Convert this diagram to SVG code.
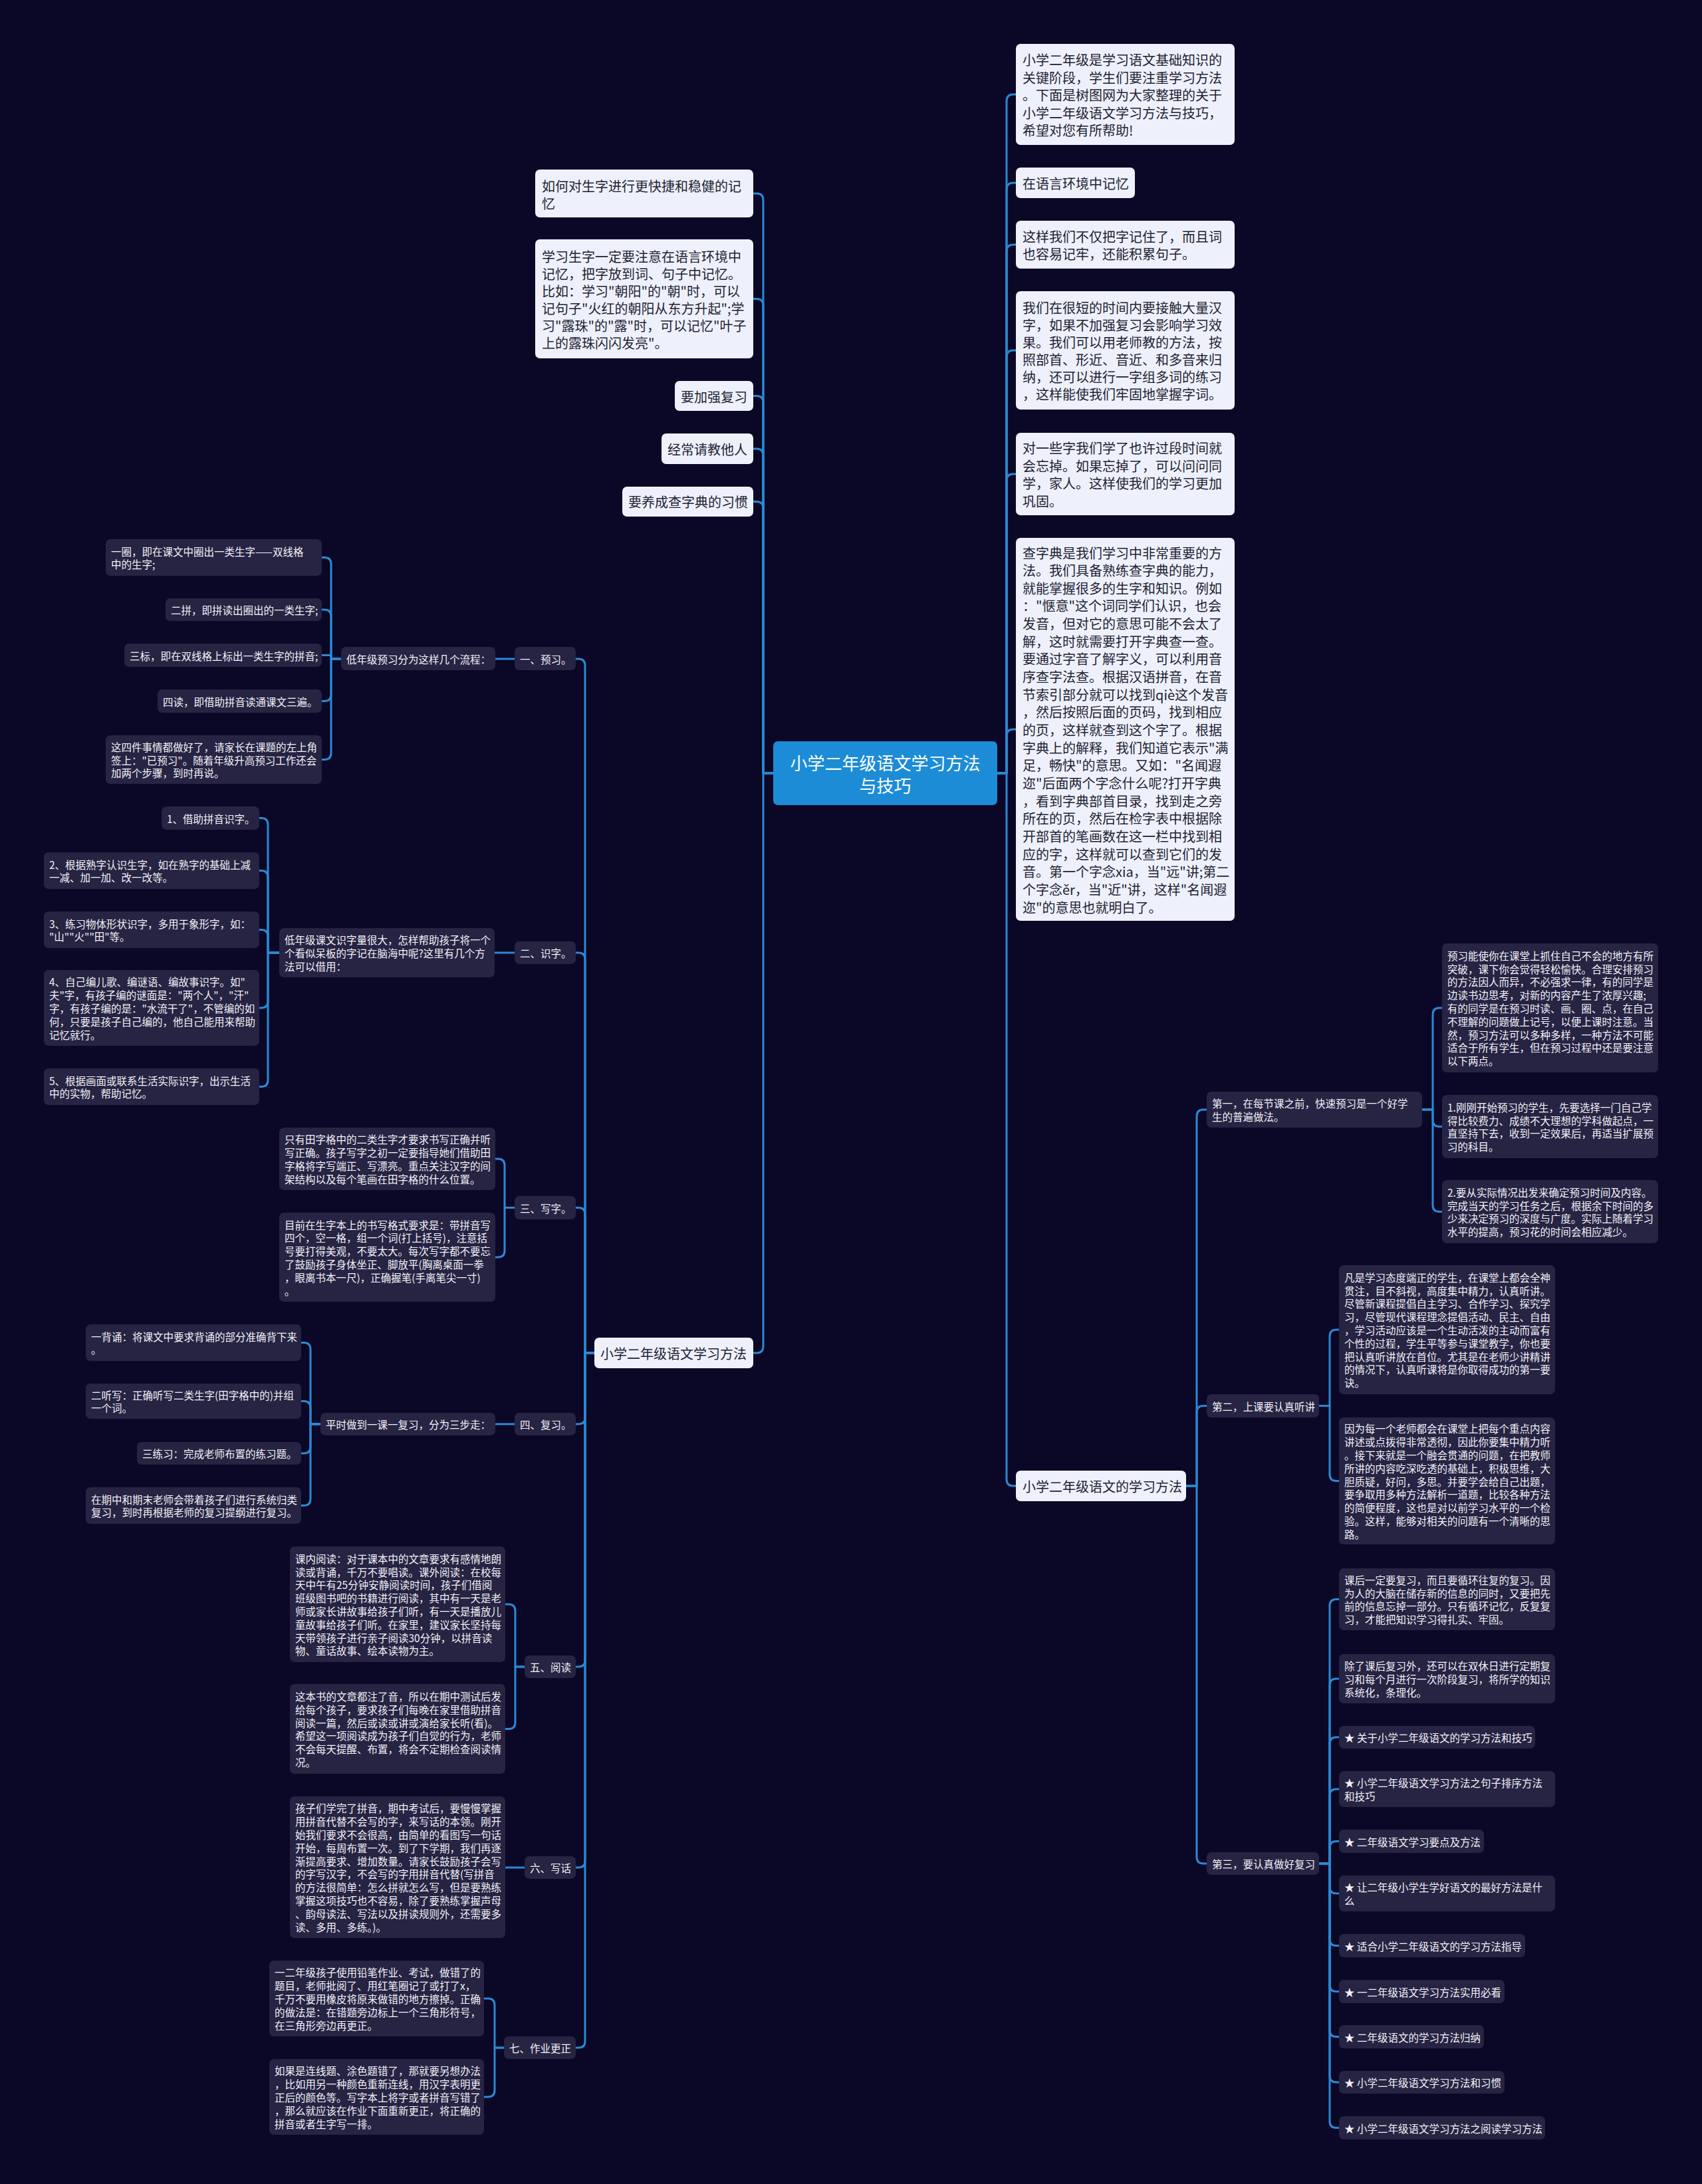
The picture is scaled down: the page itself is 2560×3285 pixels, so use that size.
<svg xmlns="http://www.w3.org/2000/svg" width="2560" height="3285" viewBox="0 0 2560 3285">
<style>
text{font-family:"Noto Sans CJK SC","Noto Sans",sans-serif;dominant-baseline:central}
.l{fill:#eef1fb}
.d{fill:#262343}
.c{fill:#1d8cd6}
.tl{font-size:20px;fill:#222233}
.td{font-size:15.5px;fill:#f2f2f7}
.tc{font-size:26px;fill:#ffffff;text-anchor:middle}
.e{fill:none;stroke:#2a8ad2;stroke-width:3;stroke-linejoin:round;stroke-linecap:round}
</style>
<rect width="2560" height="3285" fill="#0b0727"/>
<g id="connectors" class="e">
<path d="M1163 1163H1148V301Q1148 291 1138 291H1133"/>
<path d="M1163 1163H1148V459.5Q1148 449.5 1138 449.5H1133"/>
<path d="M1163 1163H1148V605.5Q1148 595.5 1138 595.5H1133"/>
<path d="M1163 1163H1148V685Q1148 675 1138 675H1133"/>
<path d="M1163 1163H1148V764.5Q1148 754.5 1138 754.5H1133"/>
<path d="M1163 1163H1148V2025Q1148 2035 1138 2035H1133"/>
<path d="M1500 1163H1514V152Q1514 142 1524 142H1528"/>
<path d="M1500 1163H1514V285Q1514 275 1524 275H1528"/>
<path d="M1500 1163H1514V378Q1514 368 1524 368H1528"/>
<path d="M1500 1163H1514V537Q1514 527 1524 527H1528"/>
<path d="M1500 1163H1514V723Q1514 713 1524 713H1528"/>
<path d="M1500 1163H1514V1107Q1514 1097 1524 1097H1528"/>
<path d="M1500 1163H1514V2225Q1514 2235 1524 2235H1528"/>
<path d="M894 2035H880V1001Q880 991 870 991H866"/>
<path d="M894 2035H880V1443Q880 1433 870 1433H866"/>
<path d="M894 2035H880V1826.5Q880 1816.5 870 1816.5H866"/>
<path d="M894 2035H880V2132Q880 2142 870 2142H866"/>
<path d="M894 2035H880V2497Q880 2507 870 2507H866"/>
<path d="M894 2035H880V2799Q880 2809 870 2809H866"/>
<path d="M894 2035H880V3070Q880 3080 870 3080H866"/>
<path d="M774 991H745"/>
<path d="M513 991H498V848.5Q498 838.5 488 838.5H484"/>
<path d="M513 991H498V927Q498 917 488 917H484"/>
<path d="M513 991H498V985.5H484"/>
<path d="M513 991H498V1044.5Q498 1054.5 488 1054.5H484"/>
<path d="M513 991H498V1132.5Q498 1142.5 488 1142.5H484"/>
<path d="M774 1433H744"/>
<path d="M420 1433H403V1240.5Q403 1230.5 393 1230.5H390"/>
<path d="M420 1433H403V1319.5Q403 1309.5 393 1309.5H390"/>
<path d="M420 1433H403V1408.5Q403 1398.5 393 1398.5H390"/>
<path d="M420 1433H403V1506Q403 1516 393 1516H390"/>
<path d="M420 1433H403V1624.5Q403 1634.5 393 1634.5H390"/>
<path d="M774 1816.5H759V1753Q759 1743 749 1743H745"/>
<path d="M774 1816.5H759V1881Q759 1891 749 1891H745"/>
<path d="M774 2142H745"/>
<path d="M482 2142H467V2029.5Q467 2019.5 457 2019.5H453"/>
<path d="M482 2142H467V2117.5Q467 2107.5 457 2107.5H453"/>
<path d="M482 2142H467V2176Q467 2186 457 2186H453"/>
<path d="M482 2142H467V2254.5Q467 2264.5 457 2264.5H453"/>
<path d="M789 2507H775V2423Q775 2413 765 2413H760"/>
<path d="M789 2507H775V2590.5Q775 2600.5 765 2600.5H760"/>
<path d="M789 2809H760"/>
<path d="M758 3080H744V3016Q744 3006 734 3006H728"/>
<path d="M758 3080H744V3144Q744 3154 734 3154H728"/>
<path d="M1784 2235H1800V1679Q1800 1669 1810 1669H1815"/>
<path d="M1784 2235H1800V2124.5Q1800 2114.5 1810 2114.5H1815"/>
<path d="M1784 2235H1800V2793Q1800 2803 1810 2803H1815"/>
<path d="M2139 1669H2155V1526Q2155 1516 2165 1516H2169"/>
<path d="M2139 1669H2155V1684.5Q2155 1694.5 2165 1694.5H2169"/>
<path d="M2139 1669H2155V1812.5Q2155 1822.5 2165 1822.5H2169"/>
<path d="M1984 2114.5H2000V2010Q2000 2000 2010 2000H2014"/>
<path d="M1984 2114.5H2000V2217.5Q2000 2227.5 2010 2227.5H2014"/>
<path d="M1984 2803H2000V2415.5Q2000 2405.5 2010 2405.5H2014"/>
<path d="M1984 2803H2000V2535Q2000 2525 2010 2525H2014"/>
<path d="M1984 2803H2000V2623Q2000 2613 2010 2613H2014"/>
<path d="M1984 2803H2000V2701Q2000 2691 2010 2691H2014"/>
<path d="M1984 2803H2000V2779.5Q2000 2769.5 2010 2769.5H2014"/>
<path d="M1984 2803H2000V2838Q2000 2848 2010 2848H2014"/>
<path d="M1984 2803H2000V2916.5Q2000 2926.5 2010 2926.5H2014"/>
<path d="M1984 2803H2000V2985.5Q2000 2995.5 2010 2995.5H2014"/>
<path d="M1984 2803H2000V3053.5Q2000 3063.5 2010 3063.5H2014"/>
<path d="M1984 2803H2000V3122Q2000 3132 2010 3132H2014"/>
<path d="M1984 2803H2000V3190.5Q2000 3200.5 2010 3200.5H2014"/>
</g>

<g id="center"><rect class="c" x="1163" y="1115" width="337" height="96" rx="7"/><text class="tc" x="1331.5" y="1146">小学二年级语文学习方法</text><text class="tc" x="1331.5" y="1180">与技巧</text></g>

<g id="n-l1"><rect class="l" x="805" y="255" width="328" height="72" rx="7"/><text class="tl" x="815" y="278.5"><tspan x="815" dy="0">如何对生字进行更快捷和稳健的记</tspan><tspan x="815" dy="26">忆</tspan></text></g>
<g id="n-l2"><rect class="l" x="805" y="360" width="328" height="179" rx="7"/><text class="tl" x="815" y="384.5"><tspan x="815" dy="0">学习生字一定要注意在语言环境中</tspan><tspan x="815" dy="26">记忆，把字放到词、句子中记忆。</tspan><tspan x="815" dy="26">比如：学习"朝阳"的"朝"时，可以</tspan><tspan x="815" dy="26">记句子"火红的朝阳从东方升起";学</tspan><tspan x="815" dy="26">习"露珠"的"露"时，可以记忆"叶子</tspan><tspan x="815" dy="26">上的露珠闪闪发亮"。</tspan></text></g>
<g id="n-l3"><rect class="l" x="1015" y="573" width="118" height="45" rx="7"/><text class="tl" x="1024" y="596">要加强复习</text></g>
<g id="n-l4"><rect class="l" x="995" y="652" width="138" height="46" rx="7"/><text class="tl" x="1004" y="675">经常请教他人</text></g>
<g id="n-l5"><rect class="l" x="936" y="732" width="197" height="45" rx="7"/><text class="tl" x="945" y="754.5">要养成查字典的习惯</text></g>
<g id="n-l6"><rect class="l" x="894" y="2012" width="239" height="46" rx="7"/><text class="tl" x="903" y="2035">小学二年级语文学习方法</text></g>

<g id="n-r1"><rect class="l" x="1528" y="66" width="329" height="152" rx="7"/><text class="tl" x="1538" y="89"><tspan x="1538" dy="0">小学二年级是学习语文基础知识的</tspan><tspan x="1538" dy="26.5">关键阶段，学生们要注重学习方法</tspan><tspan x="1538" dy="26.5">。下面是树图网为大家整理的关于</tspan><tspan x="1538" dy="26.5">小学二年级语文学习方法与技巧，</tspan><tspan x="1538" dy="26.5">希望对您有所帮助!</tspan></text></g>
<g id="n-r2"><rect class="l" x="1528" y="252" width="179" height="46" rx="7"/><text class="tl" x="1538" y="275">在语言环境中记忆</text></g>
<g id="n-r3"><rect class="l" x="1528" y="332" width="329" height="72" rx="7"/><text class="tl" x="1538" y="355"><tspan x="1538" dy="0">这样我们不仅把字记住了，而且词</tspan><tspan x="1538" dy="26">也容易记牢，还能积累句子。</tspan></text></g>
<g id="n-r4"><rect class="l" x="1528" y="438" width="329" height="178" rx="7"/><text class="tl" x="1538" y="462"><tspan x="1538" dy="0">我们在很短的时间内要接触大量汉</tspan><tspan x="1538" dy="26">字，如果不加强复习会影响学习效</tspan><tspan x="1538" dy="26">果。我们可以用老师教的方法，按</tspan><tspan x="1538" dy="26">照部首、形近、音近、和多音来归</tspan><tspan x="1538" dy="26">纳，还可以进行一字组多词的练习</tspan><tspan x="1538" dy="26">，这样能使我们牢固地掌握字词。</tspan></text></g>
<g id="n-r5"><rect class="l" x="1528" y="651" width="329" height="124" rx="7"/><text class="tl" x="1538" y="673.25"><tspan x="1538" dy="0">对一些字我们学了也许过段时间就</tspan><tspan x="1538" dy="26.5">会忘掉。如果忘掉了，可以问问同</tspan><tspan x="1538" dy="26.5">学，家人。这样使我们的学习更加</tspan><tspan x="1538" dy="26.5">巩固。</tspan></text></g>
<g id="n-r6"><rect class="l" x="1528" y="809" width="329" height="576" rx="7"/><text class="tl" x="1538" y="830.5"><tspan x="1538" dy="0">查字典是我们学习中非常重要的方</tspan><tspan x="1538" dy="26.65">法。我们具备熟练查字典的能力，</tspan><tspan x="1538" dy="26.65">就能掌握很多的生字和知识。例如</tspan><tspan x="1538" dy="26.65">："惬意"这个词同学们认识，也会</tspan><tspan x="1538" dy="26.65">发音，但对它的意思可能不会太了</tspan><tspan x="1538" dy="26.65">解，这时就需要打开字典查一查。</tspan><tspan x="1538" dy="26.65">要通过字音了解字义，可以利用音</tspan><tspan x="1538" dy="26.65">序查字法查。根据汉语拼音，在音</tspan><tspan x="1538" dy="26.65">节索引部分就可以找到qiè这个发音</tspan><tspan x="1538" dy="26.65">，然后按照后面的页码，找到相应</tspan><tspan x="1538" dy="26.65">的页，这样就查到这个字了。根据</tspan><tspan x="1538" dy="26.65">字典上的解释，我们知道它表示"满</tspan><tspan x="1538" dy="26.65">足，畅快"的意思。又如："名闻遐</tspan><tspan x="1538" dy="26.65">迩"后面两个字念什么呢?打开字典</tspan><tspan x="1538" dy="26.65">，看到字典部首目录，找到走之旁</tspan><tspan x="1538" dy="26.65">所在的页，然后在检字表中根据除</tspan><tspan x="1538" dy="26.65">开部首的笔画数在这一栏中找到相</tspan><tspan x="1538" dy="26.65">应的字，这样就可以查到它们的发</tspan><tspan x="1538" dy="26.65">音。第一个字念xia，当"远"讲;第二</tspan><tspan x="1538" dy="26.65">个字念ěr，当"近"讲，这样"名闻遐</tspan><tspan x="1538" dy="26.65">迩"的意思也就明白了。</tspan></text></g>
<g id="n-r7"><rect class="l" x="1528" y="2212" width="256" height="46" rx="7"/><text class="tl" x="1538" y="2235">小学二年级语文的学习方法</text></g>

<g id="n-yx"><rect class="d" x="774" y="973" width="92" height="35" rx="7"/><text class="td" x="782" y="991">一、预习。</text></g>
<g id="n-yx0"><rect class="d" x="513" y="973" width="232" height="35" rx="7"/><text class="td" x="521" y="991">低年级预习分为这样几个流程：</text></g>
<g id="n-yx1"><rect class="d" x="159" y="811" width="325" height="55" rx="7"/><text class="td" x="167" y="828.6"><tspan x="167" dy="0">一圈，即在课文中圈出一类生字——双线格</tspan><tspan x="167" dy="19.8">中的生字;</tspan></text></g>
<g id="n-yx2"><rect class="d" x="249" y="900" width="235" height="34" rx="7"/><text class="td" x="257" y="917">二拼，即拼读出圈出的一类生字;</text></g>
<g id="n-yx3"><rect class="d" x="187" y="968" width="297" height="35" rx="7"/><text class="td" x="195" y="985.5">三标，即在双线格上标出一类生字的拼音;</text></g>
<g id="n-yx4"><rect class="d" x="237" y="1037" width="247" height="35" rx="7"/><text class="td" x="245" y="1054.5">四读，即借助拼音读通课文三遍。</text></g>
<g id="n-yx5"><rect class="d" x="159" y="1106" width="325" height="73" rx="7"/><text class="td" x="167" y="1122.7"><tspan x="167" dy="0">这四件事情都做好了，请家长在课题的左上角</tspan><tspan x="167" dy="19.8">签上："已预习"。随着年级升高预习工作还会</tspan><tspan x="167" dy="19.8">加两个步骤，到时再说。</tspan></text></g>

<g id="n-sz"><rect class="d" x="774" y="1416" width="92" height="34" rx="7"/><text class="td" x="782" y="1433">二、识字。</text></g>
<g id="n-sz0"><rect class="d" x="420" y="1396" width="324" height="74" rx="7"/><text class="td" x="428" y="1413.2"><tspan x="428" dy="0">低年级课文识字量很大，怎样帮助孩子将一个</tspan><tspan x="428" dy="19.8">个看似呆板的字记在脑海中呢?这里有几个方</tspan><tspan x="428" dy="19.8">法可以借用：</tspan></text></g>
<g id="n-sz1"><rect class="d" x="243" y="1213" width="147" height="35" rx="7"/><text class="td" x="251" y="1230.5">1、借助拼音识字。</text></g>
<g id="n-sz2"><rect class="d" x="66" y="1282" width="324" height="55" rx="7"/><text class="td" x="74" y="1299.6"><tspan x="74" dy="0">2、根据熟字认识生字，如在熟字的基础上减</tspan><tspan x="74" dy="19.8">一减、加一加、改一改等。</tspan></text></g>
<g id="n-sz3"><rect class="d" x="66" y="1371" width="324" height="55" rx="7"/><text class="td" x="74" y="1388.6"><tspan x="74" dy="0">3、练习物体形状识字，多用于象形字，如：</tspan><tspan x="74" dy="19.8">"山""火""田"等。</tspan></text></g>
<g id="n-sz4"><rect class="d" x="66" y="1459" width="324" height="114" rx="7"/><text class="td" x="74" y="1476.4"><tspan x="74" dy="0">4、自己编儿歌、编谜语、编故事识字。如"</tspan><tspan x="74" dy="19.8">夫"字，有孩子编的谜面是："两个人"，"汗"</tspan><tspan x="74" dy="19.8">字，有孩子编的是："水流干了"，不管编的如</tspan><tspan x="74" dy="19.8">何，只要是孩子自己编的，他自己能用来帮助</tspan><tspan x="74" dy="19.8">记忆就行。</tspan></text></g>
<g id="n-sz5"><rect class="d" x="66" y="1607" width="324" height="55" rx="7"/><text class="td" x="74" y="1624.6"><tspan x="74" dy="0">5、根据画面或联系生活实际识字，出示生活</tspan><tspan x="74" dy="19.8">中的实物，帮助记忆。</tspan></text></g>

<g id="n-xz"><rect class="d" x="774" y="1799" width="92" height="35" rx="7"/><text class="td" x="782" y="1816.5">三、写字。</text></g>
<g id="n-xz1"><rect class="d" x="420" y="1696" width="325" height="94" rx="7"/><text class="td" x="428" y="1713.3"><tspan x="428" dy="0">只有田字格中的二类生字才要求书写正确并听</tspan><tspan x="428" dy="19.8">写正确。孩子写字之初一定要指导她们借助田</tspan><tspan x="428" dy="19.8">字格将字写端正、写漂亮。重点关注汉字的间</tspan><tspan x="428" dy="19.8">架结构以及每个笔画在田字格的什么位置。</tspan></text></g>
<g id="n-xz2"><rect class="d" x="420" y="1824" width="325" height="134" rx="7"/><text class="td" x="428" y="1841.5"><tspan x="428" dy="0">目前在生字本上的书写格式要求是：带拼音写</tspan><tspan x="428" dy="19.8">四个，空一格，组一个词(打上括号)，注意括</tspan><tspan x="428" dy="19.8">号要打得美观，不要太大。每次写字都不要忘</tspan><tspan x="428" dy="19.8">了鼓励孩子身体坐正、脚放平(胸离桌面一拳</tspan><tspan x="428" dy="19.8">，眼离书本一尺)，正确握笔(手离笔尖一寸)</tspan><tspan x="428" dy="19.8">。</tspan></text></g>

<g id="n-fx"><rect class="d" x="774" y="2125" width="92" height="34" rx="7"/><text class="td" x="782" y="2142">四、复习。</text></g>
<g id="n-fx0"><rect class="d" x="482" y="2125" width="263" height="34" rx="7"/><text class="td" x="490" y="2142">平时做到一课一复习，分为三步走：</text></g>
<g id="n-fx1"><rect class="d" x="129" y="1992" width="324" height="55" rx="7"/><text class="td" x="137" y="2009.6"><tspan x="137" dy="0">一背诵：将课文中要求背诵的部分准确背下来</tspan><tspan x="137" dy="19.8">。</tspan></text></g>
<g id="n-fx2"><rect class="d" x="129" y="2081" width="324" height="53" rx="7"/><text class="td" x="137" y="2097.6"><tspan x="137" dy="0">二听写：正确听写二类生字(田字格中的)并组</tspan><tspan x="137" dy="19.8">一个词。</tspan></text></g>
<g id="n-fx3"><rect class="d" x="206" y="2169" width="247" height="34" rx="7"/><text class="td" x="214" y="2186">三练习：完成老师布置的练习题。</text></g>
<g id="n-fx4"><rect class="d" x="129" y="2237" width="324" height="55" rx="7"/><text class="td" x="137" y="2254.6"><tspan x="137" dy="0">在期中和期末老师会带着孩子们进行系统归类</tspan><tspan x="137" dy="19.8">复习，到时再根据老师的复习提纲进行复习。</tspan></text></g>

<g id="n-yd"><rect class="d" x="789" y="2490" width="77" height="34" rx="7"/><text class="td" x="797" y="2507">五、阅读</text></g>
<g id="n-yd1"><rect class="d" x="436" y="2326" width="324" height="174" rx="7"/><text class="td" x="444" y="2343.7"><tspan x="444" dy="0">课内阅读：对于课本中的文章要求有感情地朗</tspan><tspan x="444" dy="19.8">读或背诵，千万不要唱读。课外阅读：在校每</tspan><tspan x="444" dy="19.8">天中午有25分钟安静阅读时间，孩子们借阅</tspan><tspan x="444" dy="19.8">班级图书吧的书籍进行阅读，其中有一天是老</tspan><tspan x="444" dy="19.8">师或家长讲故事给孩子们听，有一天是播放儿</tspan><tspan x="444" dy="19.8">童故事给孩子们听。在家里，建议家长坚持每</tspan><tspan x="444" dy="19.8">天带领孩子进行亲子阅读30分钟，以拼音读</tspan><tspan x="444" dy="19.8">物、童话故事、绘本读物为主。</tspan></text></g>
<g id="n-yd2"><rect class="d" x="436" y="2533" width="324" height="135" rx="7"/><text class="td" x="444" y="2551"><tspan x="444" dy="0">这本书的文章都注了音，所以在期中测试后发</tspan><tspan x="444" dy="19.8">给每个孩子，要求孩子们每晚在家里借助拼音</tspan><tspan x="444" dy="19.8">阅读一篇，然后或读或讲或演给家长听(看)。</tspan><tspan x="444" dy="19.8">希望这一项阅读成为孩子们自觉的行为，老师</tspan><tspan x="444" dy="19.8">不会每天提醒、布置，将会不定期检查阅读情</tspan><tspan x="444" dy="19.8">况。</tspan></text></g>

<g id="n-xh"><rect class="d" x="789" y="2792" width="77" height="34" rx="7"/><text class="td" x="797" y="2809">六、写话</text></g>
<g id="n-xh1"><rect class="d" x="436" y="2702" width="324" height="213" rx="7"/><text class="td" x="444" y="2719.4"><tspan x="444" dy="0">孩子们学完了拼音，期中考试后，要慢慢掌握</tspan><tspan x="444" dy="19.8">用拼音代替不会写的字，来写话的本领。刚开</tspan><tspan x="444" dy="19.8">始我们要求不会很高，由简单的看图写一句话</tspan><tspan x="444" dy="19.8">开始，每周布置一次。到了下学期，我们再逐</tspan><tspan x="444" dy="19.8">渐提高要求、增加数量。请家长鼓励孩子会写</tspan><tspan x="444" dy="19.8">的字写汉字，不会写的字用拼音代替(写拼音</tspan><tspan x="444" dy="19.8">的方法很简单：怎么拼就怎么写，但是要熟练</tspan><tspan x="444" dy="19.8">掌握这项技巧也不容易，除了要熟练掌握声母</tspan><tspan x="444" dy="19.8">、韵母读法、写法以及拼读规则外，还需要多</tspan><tspan x="444" dy="19.8">读、多用、多练。)。</tspan></text></g>

<g id="n-zy"><rect class="d" x="758" y="3063" width="108" height="34" rx="7"/><text class="td" x="766" y="3080">七、作业更正</text></g>
<g id="n-zy1"><rect class="d" x="405" y="2949" width="323" height="114" rx="7"/><text class="td" x="413" y="2966.4"><tspan x="413" dy="0">一二年级孩子使用铅笔作业、考试，做错了的</tspan><tspan x="413" dy="19.8">题目，老师批阅了、用红笔圈记了或打了x，</tspan><tspan x="413" dy="19.8">千万不要用橡皮将原来做错的地方擦掉。正确</tspan><tspan x="413" dy="19.8">的做法是：在错题旁边标上一个三角形符号，</tspan><tspan x="413" dy="19.8">在三角形旁边再更正。</tspan></text></g>
<g id="n-zy2"><rect class="d" x="405" y="3097" width="323" height="114" rx="7"/><text class="td" x="413" y="3114.4"><tspan x="413" dy="0">如果是连线题、涂色题错了，那就要另想办法</tspan><tspan x="413" dy="19.8">，比如用另一种颜色重新连线，用汉字表明更</tspan><tspan x="413" dy="19.8">正后的颜色等。写字本上将字或者拼音写错了</tspan><tspan x="413" dy="19.8">，那么就应该在作业下面重新更正，将正确的</tspan><tspan x="413" dy="19.8">拼音或者生字写一排。</tspan></text></g>

<g id="n-d1"><rect class="d" x="1815" y="1642" width="324" height="54" rx="7"/><text class="td" x="1823" y="1659.1"><tspan x="1823" dy="0">第一，在每节课之前，快速预习是一个好学</tspan><tspan x="1823" dy="19.8">生的普遍做法。</tspan></text></g>
<g id="n-d1a"><rect class="d" x="2169" y="1419" width="325" height="194" rx="7"/><text class="td" x="2177" y="1436.8"><tspan x="2177" dy="0">预习能使你在课堂上抓住自己不会的地方有所</tspan><tspan x="2177" dy="19.8">突破，课下你会觉得轻松愉快。合理安排预习</tspan><tspan x="2177" dy="19.8">的方法因人而异，不必强求一律，有的同学是</tspan><tspan x="2177" dy="19.8">边读书边思考，对新的内容产生了浓厚兴趣;</tspan><tspan x="2177" dy="19.8">有的同学是在预习时读、画、圈、点，在自己</tspan><tspan x="2177" dy="19.8">不理解的问题做上记号，以便上课时注意。当</tspan><tspan x="2177" dy="19.8">然，预习方法可以多种多样，一种方法不可能</tspan><tspan x="2177" dy="19.8">适合于所有学生，但在预习过程中还是要注意</tspan><tspan x="2177" dy="19.8">以下两点。</tspan></text></g>
<g id="n-d1b"><rect class="d" x="2169" y="1647" width="325" height="95" rx="7"/><text class="td" x="2177" y="1664.8"><tspan x="2177" dy="0">1.刚刚开始预习的学生，先要选择一门自己学</tspan><tspan x="2177" dy="19.8">得比较费力、成绩不大理想的学科做起点，一</tspan><tspan x="2177" dy="19.8">直坚持下去，收到一定效果后，再适当扩展预</tspan><tspan x="2177" dy="19.8">习的科目。</tspan></text></g>
<g id="n-d1c"><rect class="d" x="2169" y="1775" width="325" height="95" rx="7"/><text class="td" x="2177" y="1792.8"><tspan x="2177" dy="0">2.要从实际情况出发来确定预习时间及内容。</tspan><tspan x="2177" dy="19.8">完成当天的学习任务之后，根据余下时间的多</tspan><tspan x="2177" dy="19.8">少来决定预习的深度与广度。实际上随着学习</tspan><tspan x="2177" dy="19.8">水平的提高，预习花的时间会相应减少。</tspan></text></g>

<g id="n-d2"><rect class="d" x="1815" y="2097" width="169" height="35" rx="7"/><text class="td" x="1823" y="2114.5">第二，上课要认真听讲</text></g>
<g id="n-d2a"><rect class="d" x="2014" y="1903" width="325" height="194" rx="7"/><text class="td" x="2022" y="1920.8"><tspan x="2022" dy="0">凡是学习态度端正的学生，在课堂上都会全神</tspan><tspan x="2022" dy="19.8">贯注，目不斜视，高度集中精力，认真听讲。</tspan><tspan x="2022" dy="19.8">尽管新课程提倡自主学习、合作学习、探究学</tspan><tspan x="2022" dy="19.8">习，尽管现代课程理念提倡活动、民主、自由</tspan><tspan x="2022" dy="19.8">，学习活动应该是一个生动活泼的主动而富有</tspan><tspan x="2022" dy="19.8">个性的过程，学生平等参与课堂教学，你也要</tspan><tspan x="2022" dy="19.8">把认真听讲放在首位。尤其是在老师少讲精讲</tspan><tspan x="2022" dy="19.8">的情况下，认真听课将是你取得成功的第一要</tspan><tspan x="2022" dy="19.8">诀。</tspan></text></g>
<g id="n-d2b"><rect class="d" x="2014" y="2132" width="325" height="191" rx="7"/><text class="td" x="2022" y="2148.3"><tspan x="2022" dy="0">因为每一个老师都会在课堂上把每个重点内容</tspan><tspan x="2022" dy="19.8">讲述或点拨得非常透彻，因此你要集中精力听</tspan><tspan x="2022" dy="19.8">。接下来就是一个融会贯通的问题，在把教师</tspan><tspan x="2022" dy="19.8">所讲的内容吃深吃透的基础上，积极思维，大</tspan><tspan x="2022" dy="19.8">胆质疑，好问，多思。并要学会给自己出题，</tspan><tspan x="2022" dy="19.8">要争取用多种方法解析一道题，比较各种方法</tspan><tspan x="2022" dy="19.8">的简便程度，这也是对以前学习水平的一个检</tspan><tspan x="2022" dy="19.8">验。这样，能够对相关的问题有一个清晰的思</tspan><tspan x="2022" dy="19.8">路。</tspan></text></g>

<g id="n-d3"><rect class="d" x="1815" y="2786" width="169" height="34" rx="7"/><text class="td" x="1823" y="2803">第三，要认真做好复习</text></g>
<g id="n-d3a"><rect class="d" x="2014" y="2359" width="325" height="93" rx="7"/><text class="td" x="2022" y="2375.8"><tspan x="2022" dy="0">课后一定要复习，而且要循环往复的复习。因</tspan><tspan x="2022" dy="19.8">为人的大脑在储存新的信息的同时，又要把先</tspan><tspan x="2022" dy="19.8">前的信息忘掉一部分。只有循环记忆，反复复</tspan><tspan x="2022" dy="19.8">习，才能把知识学习得扎实、牢固。</tspan></text></g>
<g id="n-d3b"><rect class="d" x="2014" y="2488" width="325" height="74" rx="7"/><text class="td" x="2022" y="2505.2"><tspan x="2022" dy="0">除了课后复习外，还可以在双休日进行定期复</tspan><tspan x="2022" dy="19.8">习和每个月进行一次阶段复习，将所学的知识</tspan><tspan x="2022" dy="19.8">系统化，条理化。</tspan></text></g>
<g id="n-d3c"><rect class="d" x="2014" y="2596" width="295" height="34" rx="7"/><text class="td" x="2022" y="2613">★ 关于小学二年级语文的学习方法和技巧</text></g>
<g id="n-d3d"><rect class="d" x="2014" y="2664" width="325" height="54" rx="7"/><text class="td" x="2022" y="2681.1"><tspan x="2022" dy="0">★ 小学二年级语文学习方法之句子排序方法</tspan><tspan x="2022" dy="19.8">和技巧</tspan></text></g>
<g id="n-d3e"><rect class="d" x="2014" y="2752" width="218" height="35" rx="7"/><text class="td" x="2022" y="2769.5">★ 二年级语文学习要点及方法</text></g>
<g id="n-d3f"><rect class="d" x="2014" y="2821" width="325" height="54" rx="7"/><text class="td" x="2022" y="2838.1"><tspan x="2022" dy="0">★ 让二年级小学生学好语文的最好方法是什</tspan><tspan x="2022" dy="19.8">么</tspan></text></g>
<g id="n-d3g"><rect class="d" x="2014" y="2909" width="280" height="35" rx="7"/><text class="td" x="2022" y="2926.5">★ 适合小学二年级语文的学习方法指导</text></g>
<g id="n-d3h"><rect class="d" x="2014" y="2978" width="249" height="35" rx="7"/><text class="td" x="2022" y="2995.5">★ 一二年级语文学习方法实用必看</text></g>
<g id="n-d3i"><rect class="d" x="2014" y="3046" width="218" height="35" rx="7"/><text class="td" x="2022" y="3063.5">★ 二年级语文的学习方法归纳</text></g>
<g id="n-d3j"><rect class="d" x="2014" y="3115" width="249" height="34" rx="7"/><text class="td" x="2022" y="3132">★ 小学二年级语文学习方法和习惯</text></g>
<g id="n-d3k"><rect class="d" x="2014" y="3183" width="310" height="35" rx="7"/><text class="td" x="2022" y="3200.5">★ 小学二年级语文学习方法之阅读学习方法</text></g>
</svg>
